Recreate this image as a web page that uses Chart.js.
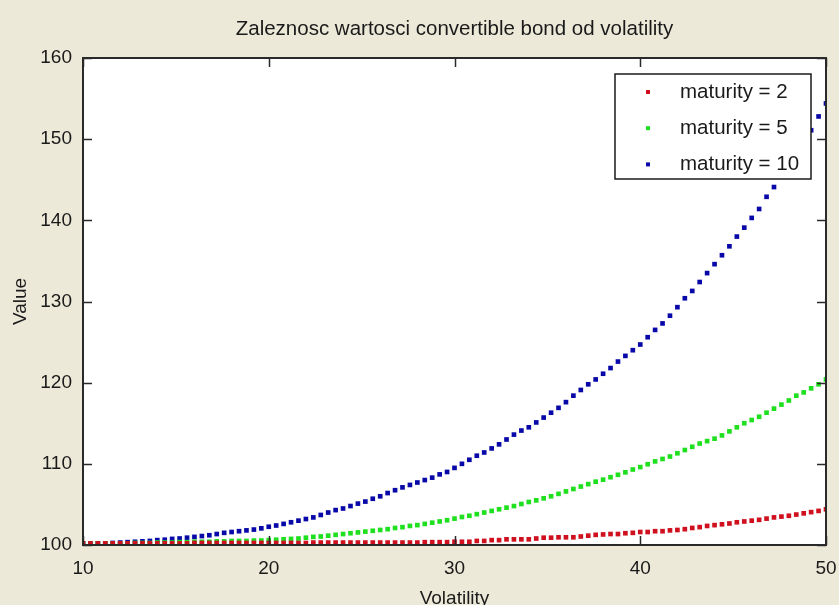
<!DOCTYPE html>
<html>
<head>
<meta charset="utf-8">
<title>Zaleznosc wartosci convertible bond od volatility</title>
<script src="https://cdn.jsdelivr.net/npm/chart.js@4"></script>
<style>
  body { margin: 0; background: #ece9d8; }
  canvas { display: block; }
</style>
</head>
<body>
<canvas id="myChart" width="839" height="605"></canvas>
<script>
// volatility grid (x values)
const volatility = [
  10, 10.4, 10.8, 11.2, 11.6, 12, 12.4, 12.8, 13.2, 13.6,
  14, 14.4, 14.8, 15.2, 15.6, 16, 16.4, 16.8, 17.2, 17.6,
  18, 18.4, 18.8, 19.2, 19.6, 20, 20.4, 20.8, 21.2, 21.6,
  22, 22.4, 22.8, 23.2, 23.6, 24, 24.4, 24.8, 25.2, 25.6,
  26, 26.4, 26.8, 27.2, 27.6, 28, 28.4, 28.8, 29.2, 29.6,
  30, 30.4, 30.8, 31.2, 31.6, 32, 32.4, 32.8, 33.2, 33.6,
  34, 34.4, 34.8, 35.2, 35.6, 36, 36.4, 36.8, 37.2, 37.6,
  38, 38.4, 38.8, 39.2, 39.6, 40, 40.4, 40.8, 41.2, 41.6,
  42, 42.4, 42.8, 43.2, 43.6, 44, 44.4, 44.8, 45.2, 45.6,
  46, 46.4, 46.8, 47.2, 47.6, 48, 48.4, 48.8, 49.2, 49.6,
  50
];

const maturity2 = [
  100.2, 100.2, 100.2, 100.2, 100.2, 100.2, 100.2, 100.2, 100.2, 100.2,
  100.2, 100.2, 100.2, 100.2, 100.2, 100.25, 100.25, 100.25, 100.25, 100.25,
  100.25, 100.25, 100.25, 100.25, 100.25, 100.25, 100.25, 100.25, 100.25, 100.25,
  100.25, 100.3, 100.3, 100.3, 100.3, 100.3, 100.3, 100.3, 100.3, 100.3,
  100.3, 100.3, 100.3, 100.3, 100.3, 100.3, 100.35, 100.35, 100.35, 100.35,
  100.4, 100.4, 100.4, 100.5, 100.5, 100.6, 100.6, 100.7, 100.7, 100.7,
  100.7, 100.8, 100.9, 100.9, 100.95, 100.95, 100.95, 101.05, 101.15, 101.25,
  101.3, 101.35, 101.35, 101.45, 101.5, 101.6, 101.6, 101.7, 101.7, 101.8,
  101.85, 101.95, 102.1, 102.2, 102.35, 102.45, 102.55, 102.65, 102.8, 102.9,
  103.0, 103.1, 103.25, 103.4, 103.5, 103.6, 103.75, 103.9, 104.05, 104.2,
  104.4
];

const maturity5 = [
  100.2, 100.2, 100.2, 100.2, 100.2, 100.2, 100.2, 100.25, 100.25, 100.25,
  100.3, 100.3, 100.3, 100.35, 100.35, 100.4, 100.4, 100.4, 100.45, 100.45,
  100.5, 100.5, 100.5, 100.55, 100.55, 100.6, 100.65, 100.7, 100.75, 100.8,
  100.9, 101.0, 101.05, 101.15, 101.25, 101.35, 101.45, 101.55, 101.65, 101.75,
  101.85, 101.95, 102.1, 102.2, 102.35, 102.45, 102.6, 102.75, 102.9, 103.05,
  103.25, 103.45, 103.6, 103.8, 104.0, 104.2, 104.4, 104.6, 104.8, 105.05,
  105.3, 105.5, 105.75, 106.0, 106.3, 106.6, 106.9, 107.2, 107.5, 107.8,
  108.05, 108.35, 108.65, 108.95, 109.3, 109.6, 109.95, 110.3, 110.6, 110.9,
  111.3, 111.7, 112.1, 112.5, 112.8, 113.1, 113.5, 114.0, 114.5, 115.0,
  115.4, 115.8, 116.3, 116.8, 117.3, 117.8, 118.4, 118.8, 119.3, 119.8,
  120.4
];

const maturity10 = [
  100.2, 100.2, 100.2, 100.2, 100.25, 100.3, 100.35, 100.4, 100.45, 100.5,
  100.6, 100.65, 100.75, 100.8, 100.9, 101.0, 101.1, 101.2, 101.35, 101.5,
  101.6, 101.7, 101.8, 101.9, 102.05, 102.25, 102.4, 102.6, 102.8, 103.0,
  103.2, 103.4, 103.7, 104.0, 104.3, 104.5, 104.8, 105.1, 105.35, 105.7,
  106.0, 106.4, 106.75, 107.1, 107.4, 107.7, 108.0, 108.3, 108.7, 109.0,
  109.5, 110.0, 110.5, 111.0, 111.4, 111.9, 112.4, 113.0, 113.6, 114.1,
  114.5, 115.1, 115.7, 116.3, 116.9, 117.6, 118.4, 119.1, 119.8, 120.4,
  121.1, 121.8, 122.6, 123.3, 124.0, 124.7, 125.6, 126.5, 127.3, 128.25,
  129.3, 130.4, 131.3, 132.4, 133.5, 134.6, 135.7, 136.8, 138.0, 139.1,
  140.3, 141.4, 142.9, 144.1, 145.4, 146.8, 148.2, 149.6, 151.1, 152.8,
  154.4
];

const seriesLabels = ['maturity = 2', 'maturity = 5', 'maturity = 10'];
const seriesColors = ['#d0101e', '#1fe01f', '#0808a8'];
const xTicks = [10, 20, 30, 40, 50];
const yTicks = [100, 110, 120, 130, 140, 150, 160];
const chartTitle = 'Zaleznosc wartosci convertible bond od volatility';

const textColor = '#1a1a1a';
const fontFamily = "'Liberation Sans', Arial, sans-serif";
Chart.defaults.font.family = fontFamily;
Chart.defaults.color = textColor;

function toPoints(ys) {
  return volatility.map((x, i) => ({ x: x, y: ys[i] }));
}

function makeDataset(label, values, color) {
  return {
    label: label,
    data: toPoints(values),
    backgroundColor: color,
    borderColor: color,
    pointStyle: 'rect',
    pointRadius: 3.3,
    pointHoverRadius: 3.3,
    pointBorderWidth: 0,
    showLine: false
  };
}

// white plot area + title centred over the axes (matlab style)
const plotBackground = {
  id: 'plotBackground',
  beforeDraw(chart) {
    const { ctx, chartArea: a } = chart;
    ctx.save();
    ctx.fillStyle = '#ffffff';
    ctx.fillRect(a.left, a.top, a.right - a.left, a.bottom - a.top);
    ctx.fillStyle = textColor;
    ctx.font = '20.5px ' + fontFamily;
    ctx.textAlign = 'center';
    ctx.textBaseline = 'middle';
    ctx.fillText(chartTitle, (a.left + a.right) / 2, 29);
    ctx.restore();
  }
};

// box with inward ticks, plus legend box inside plot
const axesBox = {
  id: 'axesBox',
  afterDatasetsDraw(chart) {
    const { ctx, chartArea: a, scales } = chart;
    const tickLen = 9;
    ctx.save();
    ctx.strokeStyle = '#2a2a2a';
    ctx.lineWidth = 1.5;
    ctx.beginPath();
    xTicks.forEach(v => {
      const px = Math.round(scales.x.getPixelForValue(v)) + 0.5;
      ctx.moveTo(px, a.bottom); ctx.lineTo(px, a.bottom - tickLen);
      ctx.moveTo(px, a.top); ctx.lineTo(px, a.top + tickLen);
    });
    yTicks.forEach(v => {
      const py = Math.round(scales.y.getPixelForValue(v)) + 0.5;
      ctx.moveTo(a.left, py); ctx.lineTo(a.left + tickLen, py);
      ctx.moveTo(a.right, py); ctx.lineTo(a.right - tickLen, py);
    });
    ctx.stroke();
    ctx.lineWidth = 2;
    ctx.strokeRect(a.left, a.top, a.right - a.left, a.bottom - a.top);

    // legend
    const lx = a.right - 211, ly = a.top + 16, lw = 196, lh = 105;
    ctx.fillStyle = '#ffffff';
    ctx.fillRect(lx, ly, lw, lh);
    ctx.lineWidth = 1.5;
    ctx.strokeStyle = '#1a1a1a';
    ctx.strokeRect(lx, ly, lw, lh);
    ctx.font = '20.5px ' + fontFamily;
    ctx.textBaseline = 'middle';
    ctx.textAlign = 'left';
    chart.data.datasets.forEach((ds, i) => {
      const ry = ly + 18 + i * 36.2;
      ctx.fillStyle = ds.backgroundColor;
      ctx.fillRect(lx + 31, ry - 2, 4, 4);
      ctx.fillStyle = textColor;
      ctx.fillText(ds.label, lx + 65, ry);
    });
    ctx.restore();
  }
};

const chartConfig = {
  type: 'scatter',
  data: {
    datasets: [
      makeDataset(seriesLabels[0], maturity2, seriesColors[0]),
      makeDataset(seriesLabels[1], maturity5, seriesColors[1]),
      makeDataset(seriesLabels[2], maturity10, seriesColors[2])
    ]
  },
  options: {
    responsive: false,
    animation: false,
    devicePixelRatio: 1,
    layout: { padding: { left: 0, right: 13, top: 58, bottom: 0 } },
    plugins: {
      legend: { display: false },
      tooltip: { enabled: false },
      title: { display: false }
    },
    scales: {
      x: {
        type: 'linear',
        min: 10,
        max: 50,
        grid: { display: false, drawTicks: false },
        border: { display: false },
        ticks: { stepSize: 10, padding: 12, font: { size: 19 }, color: textColor },
        title: {
          display: true,
          text: 'Volatility',
          color: textColor,
          font: { size: 19, lineHeight: 1 },
          padding: { top: 0, bottom: -3 }
        },
        afterFit(scale) {
          scale.height = 60;
          scale.paddingLeft = 0;
          scale.paddingRight = 0;
        }
      },
      y: {
        type: 'linear',
        min: 100,
        max: 160,
        grid: { display: false, drawTicks: false },
        border: { display: false },
        ticks: { stepSize: 10, padding: 11, font: { size: 19 }, color: textColor },
        title: {
          display: true,
          text: 'Value',
          color: textColor,
          font: { size: 19, lineHeight: 1.2 },
          padding: { top: 9, bottom: 0 }
        },
        afterFit(scale) {
          scale.width = 83;
          scale.paddingTop = 0;
          scale.paddingBottom = 0;
        }
      }
    }
  },
  plugins: [plotBackground, axesBox]
};

const chartCanvas = document.getElementById('myChart');
const myChart = new Chart(chartCanvas.getContext('2d'), chartConfig);
</script>
</body>
</html>
